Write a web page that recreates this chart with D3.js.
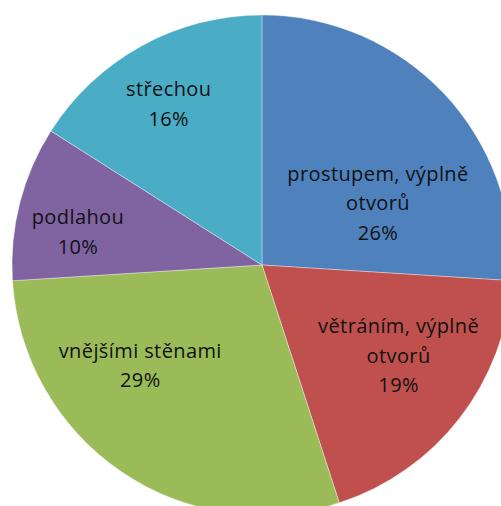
<!DOCTYPE html>
<html>
<head>
<meta charset="utf-8">
<script src="https://cdn.jsdelivr.net/npm/d3@7"></script>
<style>
  body { margin: 0; background: #fff; }
  svg { display: block; }
</style>
</head>
<body>
<div class="pie_chart"></div>
<script>
// chart data
const categories = ['prostupem, výplně otvorů', 'větráním, výplně otvorů', 'vnějšími stěnami', 'podlahou', 'střechou'];
const values = [26, 19, 29, 10, 16];
const labelLines = [['prostupem, výplně', 'otvorů'], ['větráním, výplně', 'otvorů'], ['vnějšími stěnami'], ['podlahou'], ['střechou']];

const width = 501, height = 506;
const cx = 262, cy = 265, radius = 250;

const color = d3.scaleOrdinal()
  .domain(categories)
  .range(['#4f81bd', '#c0504d', '#9bbb59', '#8064a2', '#4bacc6']);

// label placement (polar, degrees clockwise from top) - Excel nudges labels to fit
const labelPlace = [
  { a: 61.9, r: 131.5 },
  { a: 123.6, r: 164 },
  { a: 230.4, r: 158 },
  { a: 280.2, r: 187 },
  { a: 329.9, r: 186 }
];

const data = categories.map((c, i) => ({ category: c, total: values[i], lines: labelLines[i], i: i }));

const pie = d3.pie()
  .sort(null)
  .value(d => d.total);

const arc = d3.arc()
  .innerRadius(0)
  .outerRadius(radius);

const svg = d3.select('.pie_chart').append('svg')
  .attr('width', width)
  .attr('height', height);

const g = svg.append('g')
  .attr('transform', 'translate(' + cx + ',' + cy + ')');

const slices = g.selectAll('.arc')
  .data(pie(data))
  .enter().append('g')
  .attr('class', 'arc');

slices.append('path')
  .attr('d', arc)
  .style('fill', d => color(d.data.category))
  .style('stroke', 'rgba(255,255,255,0.45)')
  .style('stroke-width', 0.8);

const lineH = 29.5;
slices.append('text')
  .attr('transform', d => {
    const p = labelPlace[d.data.i];
    const ang = p.a * Math.PI / 180;
    return 'translate(' + (Math.sin(ang) * p.r) + ',' + (-Math.cos(ang) * p.r) + ')';
  })
  .attr('text-anchor', 'middle')
  .style('font-family', '"Open Sans", "Noto Sans", sans-serif')
  .style('font-size', '20px')
  .style('letter-spacing', '0.4px')
  .style('fill', '#111')
  .each(function(d) {
    const lines = d.data.lines.concat([d.data.total + '%']);
    const t = d3.select(this);
    const y0 = -(lines.length - 1) * lineH / 2;
    lines.forEach((ln, k) => {
      t.append('tspan')
        .attr('x', 0)
        .attr('y', y0 + k * lineH)
        .attr('dy', '0.35em')
        .text(ln);
    });
  });
</script>
</body>
</html>
